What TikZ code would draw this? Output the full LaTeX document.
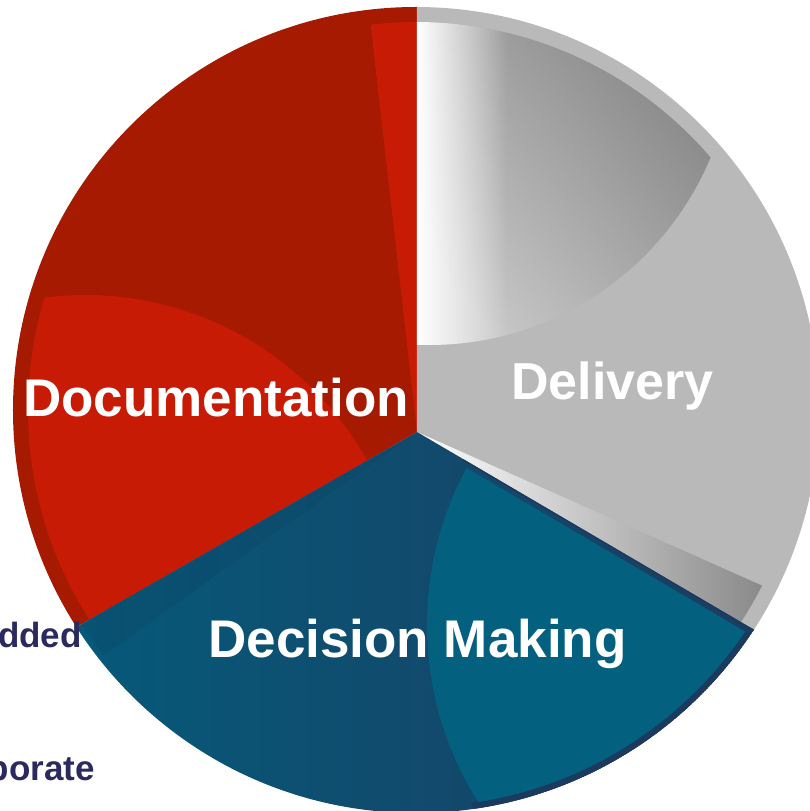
\documentclass[tikz,border=0pt]{standalone}
\usepackage{fontspec}
\setmainfont{Liberation Sans}
\usepackage{xcolor}
\usetikzlibrary{fadings}

\definecolor{redDark}{HTML}{A51A00}
\definecolor{redLight}{HTML}{C81B05}
\definecolor{greyBase}{HTML}{B9B9B9}
\definecolor{greyDeep}{HTML}{858585}
\definecolor{greyPale}{HTML}{C8C8C8}
\definecolor{blueLeft}{HTML}{045C7C}
\definecolor{blueRight}{HTML}{1D3A5E}
\definecolor{blueLight}{HTML}{03607F}
\definecolor{blueShadow}{HTML}{0C4566}
\definecolor{navyEdge}{HTML}{1C3A5E}
\definecolor{sideText}{HTML}{2B2A5E}

\begin{document}
\begin{tikzpicture}[
    x=1pt, y=1pt,
    slice/.style={font=\bfseries\fontsize{53}{60}\selectfont, text=white, inner sep=0pt, anchor=base},
    cut/.style={font=\bfseries\fontsize{35}{40}\selectfont, text=sideText, inner sep=0pt, anchor=base east},
]
    % --- geometry: slices meet at the origin, outline circle sits a bit higher ---
    \def\rPie{403}
    \def\rRimA{388}   % red and grey rims
    \def\rRimB{397}   % blue rim
    \def\aTop{90}
    \def\aLeft{209.8}
    \def\aRight{-30.4}
    \coordinate (V) at (0,0);
    \coordinate (O) at (-1,22);
    \useasboundingbox (-417,-379) rectangle (392,432);

    % --- Documentation slice ---
    \begin{scope}
        \clip (O) circle (\rPie);
        \fill[redDark] (V) -- (\aTop:900) -- (150:900) -- (\aLeft:900) -- cycle;
    \end{scope}
    \begin{scope}
        \clip (O) circle (\rRimA);
        \clip (V) -- (\aTop:900) -- (150:900) -- (\aLeft:900) -- cycle;
        \fill[redLight] (-332,-186) circle (323);
        \fill[redLight] (V) -- (\aTop:900) -- (96.5:900) -- cycle;
    \end{scope}

    % --- Delivery slice ---
    \begin{scope}
        \clip (O) circle (\rPie);
        \fill[greyBase] (V) -- (\aRight:900) -- (30:900) -- (\aTop:900) -- cycle;
    \end{scope}
    \begin{scope}
        \clip (O) circle (\rRimA);
        \clip (V) -- (\aRight:900) -- (30:900) -- (\aTop:900) -- cycle;
        \clip (12,392) circle (305);
        \shade[bottom color=greyPale, top color=greyDeep, shading angle=-50] (0,85) rectangle (310,412);
        \fill[white, path fading=east] (0,85) rectangle (90,412);
    \end{scope}
    \begin{scope}
        \clip (O) circle (\rRimA);
        \shade[left color=white, right color=greyDeep] (V) -- (\aRight:392) -- (-24:392) -- cycle;
    \end{scope}

    % --- Decision Making slice ---
    \begin{scope}
        \clip (O) circle (\rPie);
        \clip (V) -- (\aLeft:900) -- (270:900) -- (\aRight:900) -- cycle;
        \shade[left color=blueLeft, right color=blueRight] (-404,-381) rectangle (392,0);
    \end{scope}
    \begin{scope}
        \clip (O) circle (\rRimB);
        \fill[blueShadow, opacity=0.35] (V) -- (\aLeft:900) -- (215.5:900) -- cycle;
    \end{scope}
    \begin{scope}
        \clip (O) circle (\rRimB);
        \clip (-3,-5.2) -- ++(\aRight:900) -- (270:900) -- (\aLeft:900) -- cycle;
        \fill[blueLight] (341,-193) circle (331);
    \end{scope}
    \begin{scope}
        % dark rim only around the lighter part
        \clip (O) circle (\rPie);
        \clip (341,-193) circle (338);
        \clip (V) -- (\aLeft:900) -- (270:900) -- (\aRight:900) -- cycle;
        \draw[navyEdge, line width=6] (O) circle (400);
        \draw[navyEdge, line width=3] (V) -- (\aRight:420);
    \end{scope}

    % --- labels ---
    \node[slice] (docu)  at (-201,15)  {Documentation};
    \node[slice, font=\bfseries\fontsize{52}{60}\selectfont] (deliv) at (195.5,32) {Delivery};
    \node[slice] (decis) at (0.5,-225) {Decision Making};

    % --- text running in from the left ---
    \node[cut] (embed) at (-335,-215) {dded};
    \node[cut] (corp)  at (-322,-348) {porate};
\end{tikzpicture}
\end{document}
